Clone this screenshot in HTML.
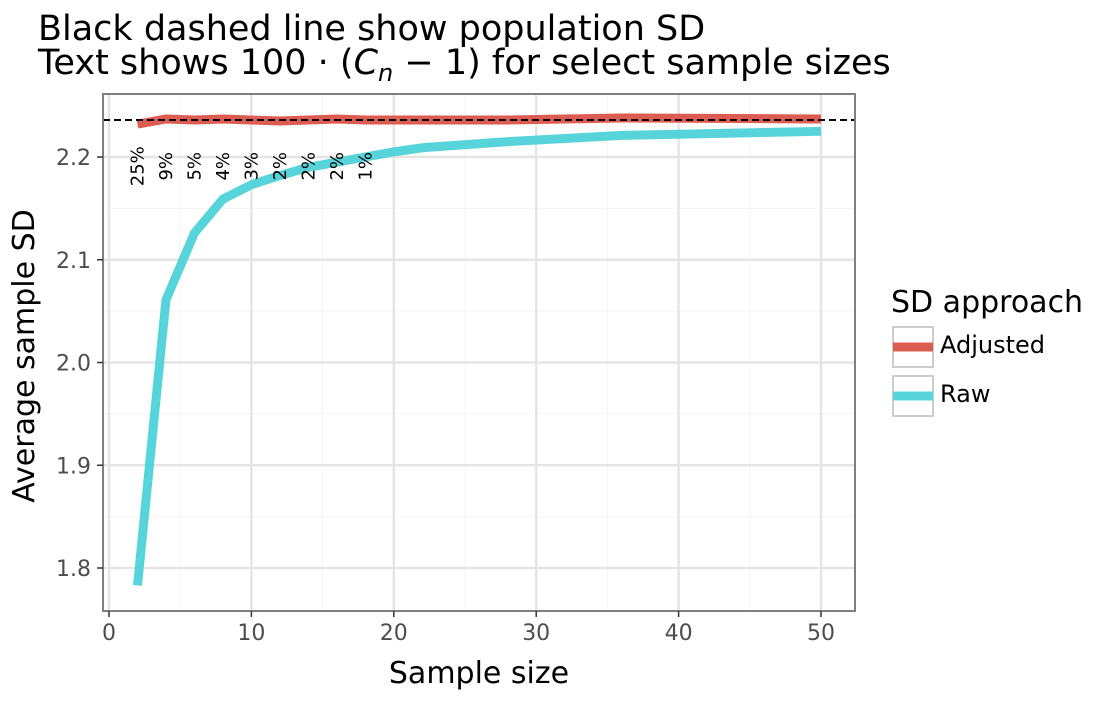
<!DOCTYPE html>
<html><head><meta charset="utf-8"><style>body{margin:0;background:#fff}svg{font-family:"DejaVu Sans","Liberation Sans",sans-serif}</style></head>
<body>
<svg id="chart" width="1100" height="700">
<text x="38" y="40" font-size="35">Black dashed line show population SD</text>
<text x="38" y="74" font-size="35">Text shows 100 · (<tspan font-style="italic">C</tspan><tspan font-style="italic" font-size="24" dy="7">n</tspan><tspan dy="-7"> − 1) for select sample sizes</tspan></text>
<rect x="103" y="94" width="752" height="517" fill="#fff"/>
<g id="grid"></g><g id="marks"></g>
<rect x="103" y="94" width="752" height="517" fill="none" stroke="#7f7f7f" stroke-width="2"/>
<g id="axes"></g>
<text x="479" y="683" font-size="30" text-anchor="middle">Sample size</text>
<text transform="translate(34,356) rotate(-90)" font-size="30" text-anchor="middle">Average sample SD</text>
<g>
<text x="891" y="312" font-size="30">SD approach</text>
<rect x="893" y="327" width="40" height="40" fill="#fff" stroke="#ccc" stroke-width="2"/>
<line x1="893" y1="347" x2="933" y2="347" stroke="#dd5c52" stroke-width="9"/>
<text x="940" y="353" font-size="24">Adjusted</text>
<rect x="893" y="376" width="40" height="40" fill="#fff" stroke="#ccc" stroke-width="2"/>
<line x1="893" y1="396" x2="933" y2="396" stroke="#57d4da" stroke-width="9"/>
<text x="940" y="402" font-size="24">Raw</text>
</g>
</svg>
<script>
const sampleSizes=[2,4,6,8,10,12,14,16,18,20,22,28,36,50];
const rawSD=[1.783,2.061,2.126,2.159,2.173,2.182,2.190,2.195,2.200,2.205,2.209,2.215,2.221,2.225];
const adjustedSD=[2.232,2.237,2.236,2.237,2.236,2.235,2.236,2.237,2.236,2.236,2.236,2.236,2.238,2.237];
const populationSD=2.236;
const labelSizes=[2,4,6,8,10,12,14,16,18];
const labelTexts=["25%","9%","5%","4%","3%","2%","2%","2%","1%"];
const labelY=2.191;
const xTicks=[0,10,20,30,40,50];
const yTicks=[1.8,1.9,2.0,2.1,2.2];
const xMinor=[5,15,25,35,45];
const yMinor=[1.85,1.95,2.05,2.15];

const X=v=>109+v*14.24;
const Y=v=>157+(2.2-v)*1027.5;
const NS="http://www.w3.org/2000/svg";
function mk(t,a,p){const e=document.createElementNS(NS,t);for(const k in a)e.setAttribute(k,a[k]);p.appendChild(e);return e;}
const grid=document.getElementById('grid'),marks=document.getElementById('marks'),axes=document.getElementById('axes');
xMinor.forEach(v=>{const e=mk('line',{x1:X(v),x2:X(v),y1:94,y2:611,stroke:'#f4f4f4','stroke-width':1},grid);

});
yMinor.forEach(v=>{const e=mk('line',{x1:103,x2:855,y1:Y(v),y2:Y(v),stroke:'#f4f4f4','stroke-width':1},grid);

});
xTicks.forEach(v=>{const e=mk('line',{x1:X(v),x2:X(v),y1:94,y2:611,stroke:'#e5e5e5','stroke-width':2.5},grid);


const t=mk('line',{x1:X(v),x2:X(v),y1:611,y2:617,stroke:'#333','stroke-width':1.5},axes);


const l=mk('text',{x:X(v),y:640,'font-size':22,fill:'#4d4d4d','text-anchor':'middle'},axes);l.textContent=v;

});
yTicks.forEach(v=>{const e=mk('line',{x1:103,x2:855,y1:Y(v),y2:Y(v),stroke:'#e5e5e5','stroke-width':2.5},grid);


const t=mk('line',{x1:97,x2:103,y1:Y(v),y2:Y(v),stroke:'#333','stroke-width':1.5},axes);


const l=mk('text',{x:91,y:Y(v)+8,'font-size':22,fill:'#4d4d4d','text-anchor':'end'},axes);l.textContent=v.toFixed(1);

});
function path(vals){return sampleSizes.map((n,i)=>(i?'L':'M')+X(n)+','+Y(vals[i])).join(' ');}
const pa=mk('path',{d:path(adjustedSD),fill:'none',stroke:'#dd5c52','stroke-width':9},marks);


const pr=mk('path',{d:path(rawSD),fill:'none',stroke:'#57d4da','stroke-width':9},marks);


const pl=mk('line',{x1:103,x2:855,y1:Y(populationSD),y2:Y(populationSD),stroke:'#000','stroke-width':2,'stroke-dasharray':'7,4'},marks);


labelSizes.forEach((n,i)=>{const t=mk('text',{transform:`translate(${X(n)+6},${Y(labelY)}) rotate(-90)`,'font-size':18,'text-anchor':'middle'},marks);t.textContent=labelTexts[i];

});
</script>
</body></html>
